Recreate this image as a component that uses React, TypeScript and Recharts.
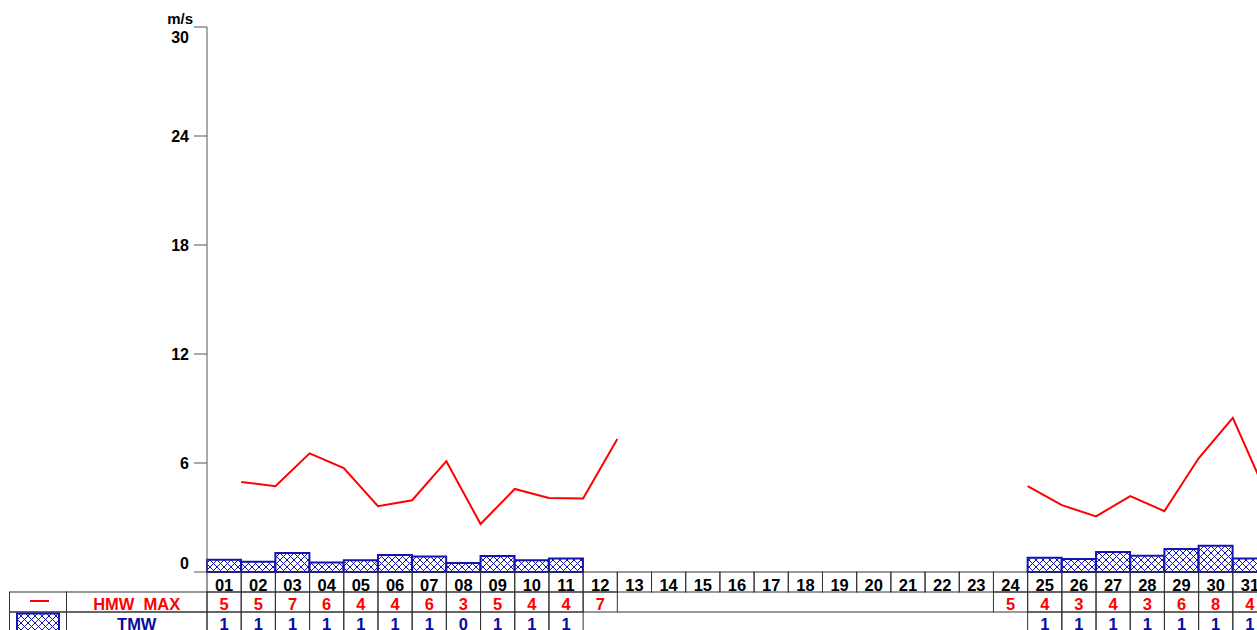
import { ComposedChart, Bar, Line, XAxis, YAxis } from "recharts";

const DAYS = [
  "01", "02", "03", "04", "05", "06", "07", "08", "09", "10", "11", "12", "13", "14", "15", "16",
  "17", "18", "19", "20", "21", "22", "23", "24", "25", "26", "27", "28", "29", "30", "31",
];

// HMW_MAX line (m/s), days 13-23 missing
const HMW_MAX = [
  4.96, 4.72, 6.53, 5.72, 3.62, 3.95, 6.1, 2.64, 4.57, 4.08, 4.04, 7.32,
  null, null, null, null, null, null, null, null, null, null, null,
  4.73, 3.68, 3.06, 4.18, 3.35, 6.26, 8.48, 4.24,
];
const HMW_MAX_LABEL = [
  5, 5, 7, 6, 4, 4, 6, 3, 5, 4, 4, 7,
  null, null, null, null, null, null, null, null, null, null, null,
  5, 4, 3, 4, 3, 6, 8, 4,
];

// TMW bars (m/s), days 12-24 missing
const TMW = [
  0.68, 0.57, 1.04, 0.52, 0.64, 0.93, 0.85, 0.49, 0.88, 0.64, 0.75,
  null, null, null, null, null, null, null, null, null, null, null, null, null,
  0.79, 0.71, 1.1, 0.9, 1.26, 1.45, 0.74,
];
const TMW_LABEL = [
  1, 1, 1, 1, 1, 1, 1, 0, 1, 1, 1,
  null, null, null, null, null, null, null, null, null, null, null, null, null,
  1, 1, 1, 1, 1, 1, 1,
];

const Y_TICKS = [0, 6, 12, 18, 24, 30];

const RED = "#ff0000";
const BLUE = "#1414b4";
const BLUE_TEXT = "#0a0a9c";
const GRID = "#333";
const FONT = "'Liberation Sans', Arial, sans-serif";

const Y_AXIS_W = 207;
const PLOT_W = 1060;
const COL_W = PLOT_W / DAYS.length;
const ROW_H = 20;
const TABLE_LEFT = 9.5;
const LABEL_LEFT = 66.5;

const data = DAYS.map((day, i) => ({
  day,
  pos: i + 1,
  hmwMax: HMW_MAX[i],
  tmw: TMW[i],
}));

const YTick = ({ x, y, payload }: any) => {
  let dy = 5.5;
  if (payload.value === 30) dy = 16;
  if (payload.value === 0) dy = -3;
  return (
    <text x={x} y={y + dy} textAnchor="end" fontSize={16} fontWeight="bold" fill="#000" fontFamily={FONT}>
      {payload.value}
    </text>
  );
};

const DayTick = ({ x, y, payload }: any) => (
  <g>
    <rect x={x - COL_W / 2} y={y} width={COL_W} height={ROW_H} fill="none" stroke={GRID} strokeWidth={1} />
    <text x={x} y={y + 18.5} textAnchor="middle" fontSize={16.5} fontWeight="bold" fill="#000" fontFamily={FONT}>
      {payload.value}
    </text>
  </g>
);

const makeRowTick = (values: (number | null)[], color: string, label: string, legend: "line" | "box") =>
  ({ x, y, payload }: any) => {
    const i = DAYS.indexOf(payload.value);
    const v = values[i];
    const left = x - COL_W / 2;
    return (
      <g>
        {i === 0 && (
          <g>
            <rect x={TABLE_LEFT} y={y} width={LABEL_LEFT - TABLE_LEFT} height={ROW_H} fill="none" stroke={GRID} />
            <rect x={LABEL_LEFT} y={y} width={Y_AXIS_W - LABEL_LEFT} height={ROW_H} fill="none" stroke={GRID} />
            {legend === "line" ? (
              <line x1={30} x2={49} y1={y + 9} y2={y + 9} stroke={RED} strokeWidth={2} />
            ) : (
              <rect x={17} y={y + 1.5} width={42} height={ROW_H} fill="url(#hatch)" stroke={BLUE} strokeWidth={2} />
            )}
            <text x={(LABEL_LEFT + Y_AXIS_W) / 2} y={y + 18} textAnchor="middle" fontSize={16.5} fontWeight="bold" fill={color} fontFamily={FONT}>
              {label}
            </text>
          </g>
        )}
        {v !== null ? (
          <g>
            <rect x={left} y={y} width={COL_W} height={ROW_H} fill="none" stroke={GRID} />
            <text x={x} y={y + 18} textAnchor="middle" fontSize={16.5} fontWeight="bold" fill={color} fontFamily={FONT}>
              {v}
            </text>
          </g>
        ) : (
          <line x1={left} x2={left + COL_W} y1={y + ROW_H} y2={y + ROW_H} stroke={GRID} />
        )}
      </g>
    );
  };

const MaxTick = makeRowTick(HMW_MAX_LABEL, RED, "HMW_MAX", "line");
const TmwTick = makeRowTick(TMW_LABEL, BLUE_TEXT, "TMW", "box");

const UnitLabel = ({ viewBox }: any) => (
  <text x={viewBox.x + viewBox.width - 14} y={viewBox.y - 3.5} textAnchor="end" fontSize={15} fontWeight="bold" fill="#000" fontFamily={FONT}>
    m/s
  </text>
);

export default function App() {
  return (
    <div style={{ position: "fixed", left: 0, top: 0, width: 1257, height: 630, overflow: "hidden", background: "#fff" }}>
      <ComposedChart
        width={Y_AXIS_W + PLOT_W}
        height={632}
        data={data}
        margin={{ top: 27, right: 0, bottom: 0, left: 0 }}
        barCategoryGap={0}
        barGap={0}
      >
        <defs>
          <pattern id="hatch" width="7" height="7" patternUnits="userSpaceOnUse">
            <rect width="7" height="7" fill="#fff" />
            <path d="M0,0 L7,7 M7,0 L0,7" stroke={BLUE} strokeWidth={1} shapeRendering="crispEdges" />
          </pattern>
        </defs>
        <XAxis xAxisId="a_pos" dataKey="pos" type="number" domain={[0, DAYS.length]} height={0} hide />
        <YAxis
          width={Y_AXIS_W}
          domain={[0, 30]}
          ticks={Y_TICKS}
          interval={0}
          tickSize={13}
          tickMargin={5}
          tick={<YTick />}
          stroke="#555"
          axisLine={{ stroke: "#555" }}
          tickLine={{ stroke: "#555" }}
          label={<UnitLabel />}
        />
        <XAxis
          xAxisId="b_days"
          dataKey="day"
          height={ROW_H}
          interval={0}
          tickSize={0}
          tickMargin={0}
          axisLine={false}
          tickLine={false}
          tick={<DayTick />}
        />
        <XAxis
          xAxisId="c_max"
          dataKey="day"
          height={ROW_H}
          interval={0}
          tickSize={0}
          tickMargin={0}
          axisLine={false}
          tickLine={false}
          tick={<MaxTick />}
        />
        <XAxis
          xAxisId="d_tmw"
          dataKey="day"
          height={ROW_H}
          interval={0}
          tickSize={0}
          tickMargin={0}
          axisLine={false}
          tickLine={false}
          tick={<TmwTick />}
        />
        <Bar
          xAxisId="b_days"
          dataKey="tmw"
          fill="url(#hatch)"
          stroke={BLUE}
          strokeWidth={2}
          isAnimationActive={false}
        />
        <Line
          xAxisId="a_pos"
          dataKey="hmwMax"
          stroke={RED}
          strokeWidth={2}
          dot={false}
          activeDot={false}
          connectNulls={false}
          isAnimationActive={false}
        />
      </ComposedChart>
    </div>
  );
}
